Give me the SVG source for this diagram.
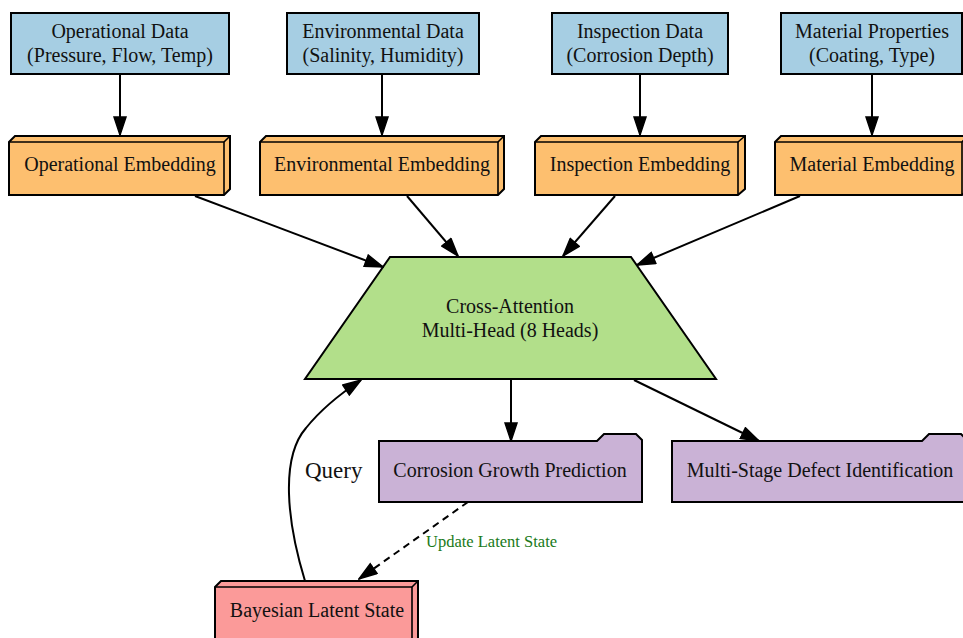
<svg xmlns="http://www.w3.org/2000/svg" width="963" height="638" viewBox="0 0 963 638">
<defs>
<style>
.n{stroke:#000;stroke-width:2}
.t{font-family:"Liberation Serif","Times New Roman",serif;font-size:20px;fill:#111;text-anchor:middle}
.data{fill:#a6cee3}
.emb{fill:#fdbf6f}
.att{fill:#b2df8a}
.out{fill:#cab2d6}
.lat{fill:#fb9a99}
.e{fill:none;stroke:#000;stroke-width:2}
.d{fill:none;stroke:#000;stroke-width:2;stroke-dasharray:7,5}
.ln{fill:none;stroke:#000;stroke-width:1.6}
</style>
<marker id="ah" markerUnits="userSpaceOnUse" viewBox="0 0 20 14" markerWidth="20" markerHeight="14" refX="19" refY="7" orient="auto">
<path d="M1,1 L19,7 L1,13 z" fill="#000" stroke="#000" stroke-width="1.5"/>
</marker>
</defs>
<rect width="963" height="638" fill="#fff"/>

<g id="opdata">
<rect class="n data" x="11" y="13" width="218" height="61"/>
<text class="t" x="120" y="38">Operational Data</text>
<text class="t" x="120" y="62">(Pressure, Flow, Temp)</text>
</g>
<g id="envdata">
<rect class="n data" x="287" y="13" width="192" height="61"/>
<text class="t" x="383" y="38">Environmental Data</text>
<text class="t" x="383" y="62">(Salinity, Humidity)</text>
</g>
<g id="inspdata">
<rect class="n data" x="552" y="13" width="176" height="61"/>
<text class="t" x="640" y="38">Inspection Data</text>
<text class="t" x="640" y="62">(Corrosion Depth)</text>
</g>
<g id="matdata">
<rect class="n data" x="781" y="13" width="181" height="61"/>
<text class="t" x="872" y="38">Material Properties</text>
<text class="t" x="872" y="62">(Coating, Type)</text>
</g>

<g id="opemb">
<polygon class="n emb" points="9,142 15,136 230,136 230,189 224,195 9,195"/>
<polyline class="ln" points="9,142 224,142 224,195"/>
<line class="ln" x1="224" y1="142" x2="230" y2="136"/>
<text class="t" x="120" y="171">Operational Embedding</text>
</g>
<g id="envemb">
<polygon class="n emb" points="260,142 266,136 504,136 504,189 498,195 260,195"/>
<polyline class="ln" points="260,142 498,142 498,195"/>
<line class="ln" x1="498" y1="142" x2="504" y2="136"/>
<text class="t" x="382" y="171">Environmental Embedding</text>
</g>
<g id="inspemb">
<polygon class="n emb" points="535,142 541,136 745,136 745,189 738,195 535,195"/>
<polyline class="ln" points="535,142 738,142 738,195"/>
<line class="ln" x1="738" y1="142" x2="745" y2="136"/>
<text class="t" x="640" y="171">Inspection Embedding</text>
</g>
<g id="matemb">
<polygon class="n emb" points="775,142 781,136 968,136 968,189 962,195 775,195"/>
<polyline class="ln" points="775,142 962,142 962,195"/>
<line class="ln" x1="962" y1="142" x2="968" y2="136"/>
<text class="t" x="872" y="171">Material Embedding</text>
</g>

<g id="attention">
<polygon class="n att" points="390,257 631,257 716,379 305,379"/>
<text class="t" x="510" y="313">Cross-Attention</text>
<text class="t" x="510" y="337">Multi-Head (8 Heads)</text>
</g>

<g id="corrosion">
<polygon class="n out" points="379,441 597,441 604,434 636,434 642,440 642,502 379,502"/>
<text class="t" x="510" y="477">Corrosion Growth Prediction</text>
</g>
<g id="defect">
<polygon class="n out" points="672,441 922,441 929,434 961,434 967,440 967,502 672,502"/>
<text class="t" x="820" y="477">Multi-Stage Defect Identification</text>
</g>

<g id="latent">
<polygon class="n lat" points="215,587 221,581 418,581 418,644 412,650 215,650"/>
<polyline class="ln" points="215,587 412,587 412,650"/>
<line class="ln" x1="412" y1="587" x2="418" y2="581"/>
<text class="t" x="317" y="617">Bayesian Latent State</text>
</g>

<g id="edges">
<line class="e" x1="120" y1="74" x2="120" y2="135" marker-end="url(#ah)"/>
<line class="e" x1="382" y1="74" x2="382" y2="135" marker-end="url(#ah)"/>
<line class="e" x1="640" y1="74" x2="640" y2="135" marker-end="url(#ah)"/>
<line class="e" x1="872" y1="74" x2="872" y2="135" marker-end="url(#ah)"/>
<line class="e" x1="195" y1="196" x2="383" y2="267" marker-end="url(#ah)"/>
<line class="e" x1="407" y1="196" x2="458" y2="256" marker-end="url(#ah)"/>
<line class="e" x1="615" y1="196" x2="563" y2="256" marker-end="url(#ah)"/>
<line class="e" x1="800" y1="196" x2="637" y2="265" marker-end="url(#ah)"/>
<line class="e" x1="511" y1="379" x2="511" y2="441" marker-end="url(#ah)"/>
<line class="e" x1="634" y1="380" x2="759" y2="441" marker-end="url(#ah)"/>
<path class="d" d="M468,502 L359,579" marker-end="url(#ah)"/>
<path class="e" d="M305,581 C287,522 280,458 306,428 C322,408 340,394 361,380" marker-end="url(#ah)"/>
<text x="305" y="478" style="font-family:'Liberation Serif','Times New Roman',serif;font-size:23px;fill:#111">Query</text>
<text x="426" y="547" style="font-family:'Liberation Serif','Times New Roman',serif;font-size:16.5px;fill:#1a7a1a">Update Latent State</text>
</g>
</svg>
